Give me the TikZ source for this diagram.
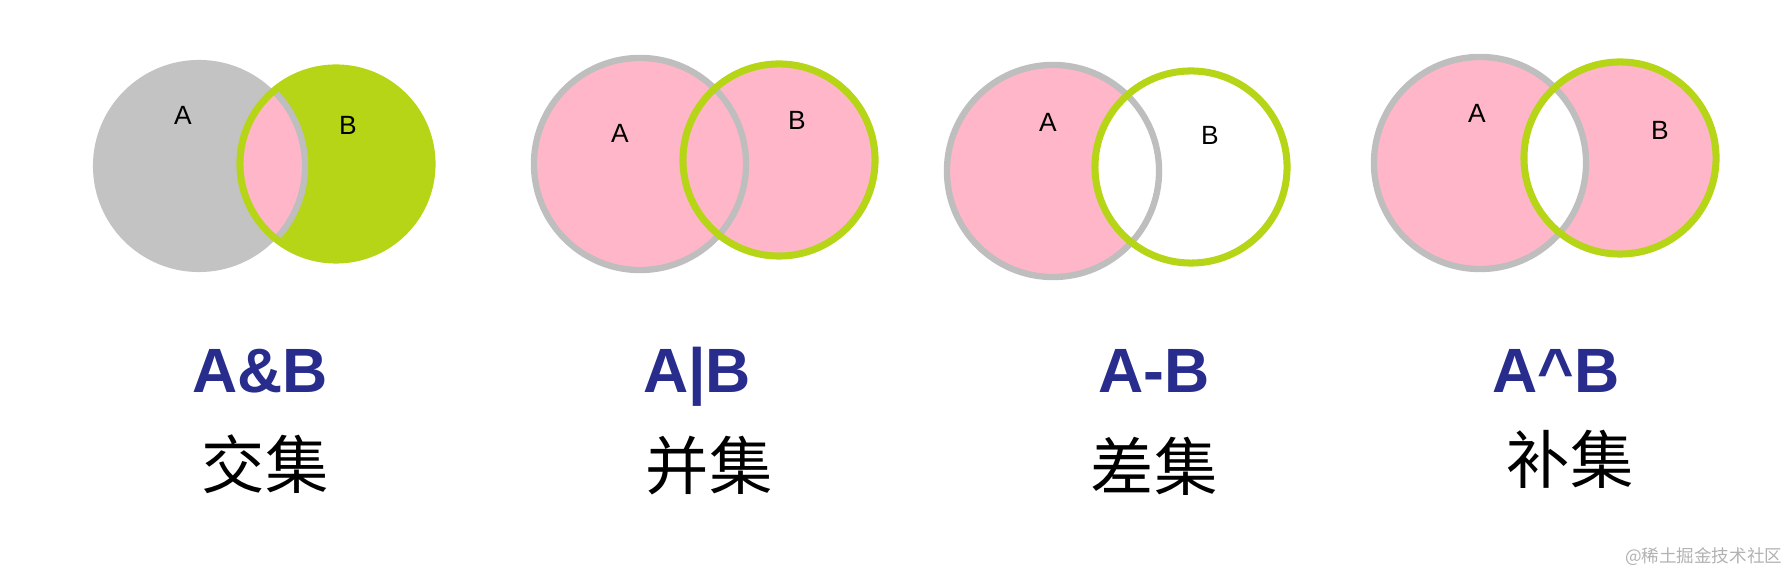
\documentclass[tikz,border=0pt]{standalone}
\usepackage{fontspec}
\setmainfont{Liberation Sans}
\newfontfamily\cjk{Noto Sans CJK SC}
\definecolor{setgray}{RGB}{195,195,195}
\definecolor{ringgray}{RGB}{190,190,190}
\definecolor{setgreen}{RGB}{181,213,22}
\definecolor{setpink}{RGB}{255,182,200}
\definecolor{opblue}{RGB}{40,44,140}

\begin{document}
\begin{tikzpicture}[
        x=0.01cm, y=-0.01cm,
        ring a/.style={draw=ringgray, line width=1.8pt},
        ring b/.style={draw=setgreen, line width=2pt},
        set label/.style={font=\fontsize{7.5}{9}\selectfont, inner sep=0pt},
        op label/.style={font=\fontsize{17.8}{20}\selectfont\bfseries, text=opblue, inner sep=0pt, anchor=base},
        name label/.style={font=\fontsize{18}{20}\selectfont\cjk, inner sep=0pt},
    ]
    \useasboundingbox (0,0) rectangle (1792,574);

    % Mittelpunkte der Kreise A und B
    \coordinate (a1) at (199,166);  \coordinate (b1) at (336,164);
    \coordinate (a2) at (640,164);  \coordinate (b2) at (779,160);
    \coordinate (a3) at (1053,171); \coordinate (b3) at (1191,167);
    \coordinate (a4) at (1480,163); \coordinate (b4) at (1620,158);
    \def\ra{1.06cm}
    \def\rb{0.96cm}

    % A&B: nur die Schnittmenge rosa
    \fill[setgray] (a1) circle[radius=\ra];
    \fill[setgreen] (b1) circle[radius=\rb];
    \begin{scope}
        \clip (a1) circle[radius=\ra];
        \fill[setpink] (b1) circle[radius=\rb];
    \end{scope}
    \begin{scope}
        \clip (b1) circle[radius=\rb];
        \draw[ring a] (a1) circle[radius=\ra];
    \end{scope}
    \draw[ring b] (b1) circle[radius=\rb];

    % A|B: alles rosa
    \fill[setpink] (a2) circle[radius=\ra] (b2) circle[radius=\rb];
    \draw[ring a] (a2) circle[radius=\ra];
    \draw[ring b] (b2) circle[radius=\rb];

    % A-B: nur A ohne B
    \fill[setpink] (a3) circle[radius=\ra];
    \fill[white] (b3) circle[radius=\rb];
    \draw[ring a] (a3) circle[radius=\ra];
    \draw[ring b] (b3) circle[radius=\rb];

    % A^B: alles ausser der Schnittmenge
    \fill[setpink] (a4) circle[radius=\ra] (b4) circle[radius=\rb];
    \begin{scope}
        \clip (a4) circle[radius=\ra];
        \fill[white] (b4) circle[radius=\rb];
    \end{scope}
    \draw[ring a] (a4) circle[radius=\ra];
    \draw[ring b] (b4) circle[radius=\rb];

    % Buchstaben in den Kreisen
    \foreach \i/\ax/\ay/\bx/\by in {1/183/115/348/125, 2/620/133/797/120,
                                    3/1048/122/1210/135, 4/1477/113/1660/130} {
        \node[set label] (la\i) at (\ax,\ay) {A};
        \node[set label] (lb\i) at (\bx,\by) {B};
    }

    % Operatoren und Namen darunter
    \node[op label] (op1) at (260,393) {A\&B};
    \node[op label] (op2) at (697,393) {A|B};
    \node[op label] (op3) at (1154,393) {A-B};
    \node[op label] (op4) at (1556,393) {A\textasciicircum B};
    \foreach \i/\x/\y/\name in {1/265/464/交集, 2/709/466/并集, 3/1154/466/差集, 4/1570/459/补集} {
        \node[name label] (nm\i) at (\x,\y) {\name};
    }

    % Wasserzeichen
    \node[font=\fontsize{5}{6}\selectfont\cjk, text=gray!60, anchor=east, inner sep=0pt]
        (mark) at (1783,557) {@稀土掘金技术社区};

\end{tikzpicture}
\end{document}
